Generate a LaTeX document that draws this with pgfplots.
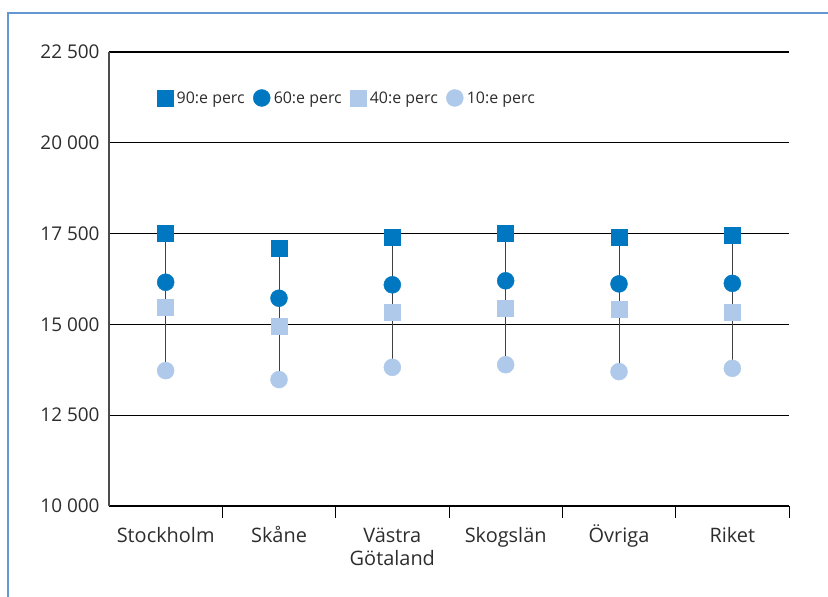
\documentclass[border=0pt]{standalone}
\usepackage{fontspec}
\setmainfont{Open Sans}
\usepackage{pgfplots}
\pgfplotsset{compat=1.18}
\usepackage{pgfplotstable}
\definecolor{dblue}{RGB}{0,120,193}
\definecolor{lblue}{RGB}{174,201,234}
\definecolor{txt}{RGB}{45,45,45}
\definecolor{framec}{RGB}{100,150,210}
\newcommand\lst{\rule{0pt}{19.5bp}}

\pgfplotstableread{
x p90 p60 p40 p10
0 17500 16160 15465 13727
1 17087 15721 14937 13479
2 17390 16090 15330 13818
3 17500 16200 15440 13890
4 17390 16115 15410 13700
5 17445 16130 15330 13790
}\data

\begin{document}
\begin{tikzpicture}[x=1bp,y=1bp]
\useasboundingbox (0,0) rectangle (828,597);
\draw[framec, line width=1.5bp] (8,0) -- (8,584) -- (828,584);
\begin{axis}[
  at={(109bp,91bp)}, anchor=south west,
  scale only axis, width=680bp, height=454bp,
  xmin=-0.5, xmax=5.5, ymin=10000, ymax=22500,
  scaled y ticks=false,
  axis x line*=bottom, axis y line*=left,
  x axis line style={black, line width=1.5bp},
  y axis line style={black!70, line width=1.3bp},
  ytick={10000,12500,15000,17500,20000,22500},
  yticklabels={10 000,12 500,15 000,17 500,20 000,22 500},
  ymajorgrids, grid style={black, line width=1.3bp},
  xtick={0,1,2,3,4,5},
  xticklabels={\lst Stockholm,\lst Skåne,\lst Västra\\Götaland,\lst Skogslän,\lst Övriga,\lst Riket},
  minor xtick={0.5,1.5,2.5,3.5,4.5,5.5},
  major tick length=0pt, minor tick length=12bp,
  tick align=outside,
  every minor tick/.style={black, line width=1bp},
  ticklabel style={text=txt, font=\fontsize{19}{23}\selectfont},
  xticklabel style={align=center, anchor=north, yshift=-13bp, font=\fontsize{20}{24}\selectfont},
  yticklabel style={xshift=-6bp},
  legend style={at={(0.0706,0.8987)}, anchor=west, draw=none, fill=none,
    inner sep=0pt, font=\fontsize{16}{18}\selectfont, text=txt,
    nodes={inner xsep=1.5bp},
    /tikz/every odd column/.append style={column sep=2bp},
    /tikz/every even column/.append style={column sep=7bp}},
  legend columns=4, legend cell align=left,
  legend image code/.code={\draw[#1] plot coordinates {(7.5bp,0bp)};},
]
\addplot[draw=none, mark=none, forget plot,
  error bars/.cd, y dir=minus, y explicit, error mark=none,
  error bar style={draw=black!75, line width=0.9bp}]
  table[x=x, y=p90, y error expr=\thisrow{p90}-\thisrow{p10}] {\data};
\addplot[only marks, mark=square*, mark size=8bp, color=dblue, mark options={draw=none, fill=dblue}]
  table[x=x, y=p90] {\data};
\addlegendentry{90:e perc}
\addplot[only marks, mark=*, mark size=8.5bp, color=dblue, mark options={draw=none, fill=dblue}]
  table[x=x, y=p60] {\data};
\addlegendentry{60:e perc}
\addplot[only marks, mark=square*, mark size=8bp, color=lblue, mark options={draw=none, fill=lblue}]
  table[x=x, y=p40] {\data};
\addlegendentry{40:e perc}
\addplot[only marks, mark=*, mark size=8.5bp, color=lblue, mark options={draw=none, fill=lblue}]
  table[x=x, y=p10] {\data};
\addlegendentry{10:e perc}
\end{axis}
\end{tikzpicture}
\end{document}
